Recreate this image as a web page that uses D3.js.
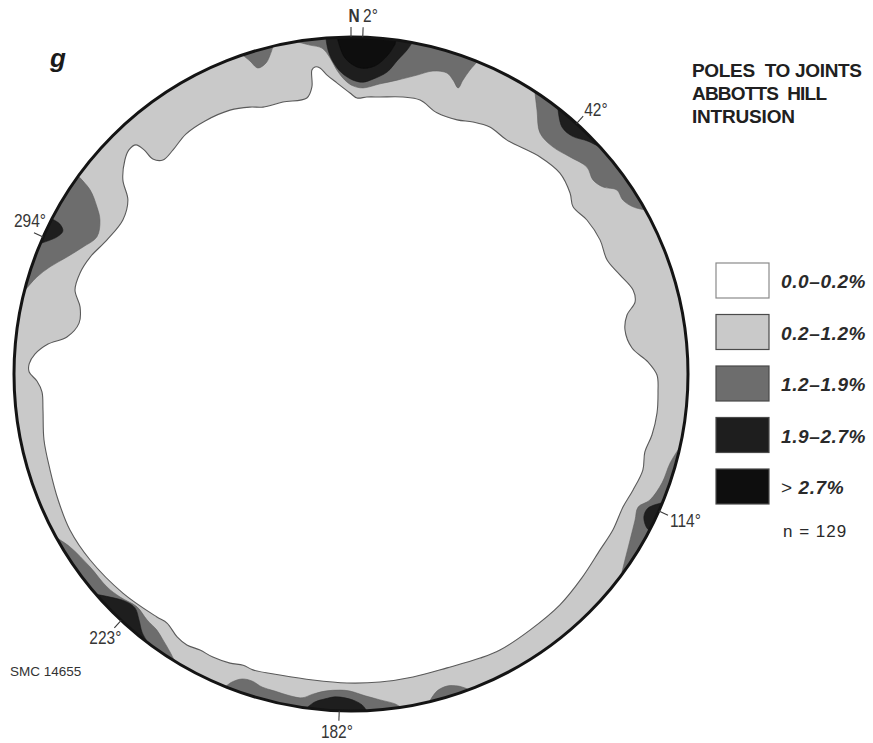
<!DOCTYPE html>
<html>
<head>
<meta charset="utf-8">
<script src="https://cdn.jsdelivr.net/npm/d3@7"></script>
<style>
  body { margin: 0; background: #fff; }
  svg { display: block; }
  text { font-family: "Liberation Sans", Arial, Helvetica, sans-serif; }
</style>
</head>
<body>
<svg id="chart" width="873" height="743"></svg>
<script>
// ---- contour classes, % of poles per 1% area ----
const classLabels = ["0.0–0.2%", "0.2–1.2%", "1.2–1.9%", "1.9–2.7%", "> 2.7%"];
const sampleSize = 129;
const titleLines = ["POLES  TO JOINTS", "ABBOTTS  HILL", "INTRUSION"];
const panelLetter = "g";
const sheetId = "SMC 14655";

// peak azimuths marked on the primitive circle (degrees from north)
const peakLabels   = ["N", "2°", "42°", "114°", "182°", "223°", "294°"];
const peakAzimuths = [0, 2, 42, 114, 182, 223, 294];

// ---- contour vertices in net coordinates [east, north], primitive radius = 1 ----
// 0.2 % contour (closed, encloses the empty centre of the net)
const contour02 = [
  [-0.359,0.783],[-0.300,0.792],[-0.261,0.792],[-0.202,0.807],[-0.131,0.819],[-0.116,0.852],
  [-0.116,0.902],[-0.107,0.911],[-0.092,0.908],[-0.071,0.887],[-0.042,0.864],[-0.003,0.834],
  [0.018,0.819],[0.047,0.822],[0.086,0.822],[0.154,0.822],[0.205,0.813],[0.255,0.775],
  [0.315,0.754],[0.362,0.748],[0.412,0.733],[0.463,0.694],[0.561,0.644],[0.620,0.596],
  [0.650,0.537],[0.659,0.496],[0.700,0.457],[0.739,0.398],[0.760,0.338],[0.798,0.294],
  [0.837,0.249],[0.843,0.214],[0.819,0.175],[0.813,0.131],[0.834,0.077],[0.881,0.036],
  [0.908,-0.003],[0.911,-0.053],[0.908,-0.116],[0.893,-0.181],[0.872,-0.231],[0.866,-0.285],
  [0.837,-0.344],[0.807,-0.395],[0.777,-0.463],[0.739,-0.522],[0.685,-0.605],[0.620,-0.685],
  [0.531,-0.760],[0.442,-0.819],[0.383,-0.843],[0.285,-0.872],[0.184,-0.899],[0.086,-0.914],
  [-0.012,-0.917],[-0.113,-0.908],[-0.211,-0.893],[-0.291,-0.878],[-0.320,-0.864],[-0.359,-0.858],
  [-0.410,-0.840],[-0.448,-0.819],[-0.487,-0.804],[-0.516,-0.780],[-0.546,-0.739],[-0.576,-0.721],
  [-0.677,-0.650],[-0.774,-0.552],[-0.834,-0.463],[-0.869,-0.374],[-0.893,-0.285],[-0.911,-0.196],
  [-0.914,-0.107],[-0.917,-0.053],[-0.932,-0.021],[-0.955,0.006],[-0.955,0.030],[-0.938,0.059],
  [-0.899,0.089],[-0.843,0.110],[-0.807,0.151],[-0.804,0.199],[-0.819,0.249],[-0.804,0.300],
  [-0.774,0.347],[-0.724,0.398],[-0.677,0.457],[-0.662,0.516],[-0.677,0.576],[-0.671,0.635],
  [-0.659,0.665],[-0.638,0.680],[-0.614,0.665],[-0.588,0.638],[-0.558,0.635],[-0.528,0.665],
  [-0.490,0.712],[-0.433,0.751]
];

// 1.2 % contours (open, both ends on the primitive circle)
const contour12_340 = [[-0.326,0.950],[-0.300,0.929],[-0.276,0.908],[-0.252,0.923],[-0.240,0.947],[-0.231,0.973]];
const contour12_002 = [
  [-0.157,0.985],[-0.122,0.976],[-0.086,0.967],[-0.062,0.938],[-0.042,0.902],[-0.018,0.872],
  [0.006,0.855],[0.036,0.849],[0.086,0.861],[0.137,0.872],[0.196,0.887],[0.243,0.899],
  [0.285,0.893],[0.303,0.872],[0.318,0.849],[0.332,0.872],[0.353,0.902],[0.374,0.926]
];
const contour12_042 = [
  [0.546,0.834],[0.552,0.783],[0.561,0.715],[0.599,0.674],[0.650,0.644],[0.700,0.614],
  [0.718,0.576],[0.748,0.555],[0.789,0.546],[0.807,0.516],[0.837,0.496],[0.872,0.487]
];
const contour12_114 = [
  [0.976,-0.217],[0.947,-0.264],[0.923,-0.323],[0.887,-0.374],[0.852,-0.395],
  [0.843,-0.433],[0.828,-0.493],[0.813,-0.552],[0.804,-0.588]
];
const contour12_160 = [[0.234,-0.970],[0.255,-0.941],[0.285,-0.926],[0.318,-0.926],[0.347,-0.935]];
const contour12_182 = [
  [-0.374,-0.929],[-0.353,-0.914],[-0.323,-0.905],[-0.294,-0.911],[-0.264,-0.929],[-0.226,-0.941],
  [-0.181,-0.955],[-0.145,-0.961],[-0.113,-0.950],[-0.077,-0.941],[-0.033,-0.938],[-0.003,-0.941],
  [0.042,-0.955],[0.086,-0.967],[0.131,-0.979],[0.151,-0.991]
];
const contour12_223 = [
  [-0.872,-0.487],[-0.834,-0.513],[-0.774,-0.573],[-0.724,-0.632],[-0.685,-0.662],[-0.635,-0.691],
  [-0.605,-0.730],[-0.576,-0.760],[-0.558,-0.789],[-0.537,-0.825],[-0.522,-0.855]
];
const contour12_294 = [
  [-0.810,0.588],[-0.774,0.546],[-0.754,0.496],[-0.745,0.457],[-0.754,0.407],
  [-0.795,0.377],[-0.843,0.347],[-0.893,0.318],[-0.932,0.288],[-0.967,0.249]
];

// 1.9 % contours
const contour19_002 = [
  [-0.074,0.994],[-0.068,0.961],[-0.053,0.926],[-0.027,0.893],[0.006,0.872],[0.036,0.866],
  [0.065,0.875],[0.107,0.896],[0.139,0.932],[0.166,0.961],[0.181,0.982]
];
const contour19_042 = [[0.614,0.789],[0.626,0.733],[0.656,0.706],[0.703,0.691],[0.742,0.671]];
const contour19_114 = [[0.920,-0.383],[0.881,-0.398],[0.869,-0.424],[0.878,-0.457],[0.893,-0.469]];
const contour19_182 = [
  [-0.128,-0.988],[-0.107,-0.973],[-0.077,-0.964],[-0.047,-0.958],[-0.018,-0.961],
  [0.012,-0.970],[0.033,-0.982],[0.045,-0.997]
];
const contour19_223 = [[-0.760,-0.653],[-0.715,-0.662],[-0.671,-0.674],[-0.641,-0.694],[-0.629,-0.730],[-0.620,-0.766],[-0.608,-0.789]];
const contour19_294 = [[-0.887,0.460],[-0.864,0.445],[-0.855,0.424],[-0.872,0.407],[-0.917,0.389]];

// 2.7 % contour
const contour27_002 = [[-0.039,0.991],[-0.018,0.938],[0.027,0.908],[0.071,0.914],[0.110,0.947],[0.131,0.979]];

const patches = [
  { level: classLabels[2], pts: contour12_340 },
  { level: classLabels[2], pts: contour12_002 },
  { level: classLabels[2], pts: contour12_042 },
  { level: classLabels[2], pts: contour12_114 },
  { level: classLabels[2], pts: contour12_160 },
  { level: classLabels[2], pts: contour12_182 },
  { level: classLabels[2], pts: contour12_223 },
  { level: classLabels[2], pts: contour12_294 },
  { level: classLabels[3], pts: contour19_002 },
  { level: classLabels[3], pts: contour19_042 },
  { level: classLabels[3], pts: contour19_114 },
  { level: classLabels[3], pts: contour19_182 },
  { level: classLabels[3], pts: contour19_223 },
  { level: classLabels[3], pts: contour19_294 },
  { level: classLabels[4], pts: contour27_002 }
];

// ---- layout ----
const W = 873, H = 743;
const cx = 351, cy = 374, R = 337;
const svg = d3.select("#chart");

const x = d3.scaleLinear().domain([-1, 1]).range([cx - R, cx + R]);
const y = d3.scaleLinear().domain([-1, 1]).range([cy + R, cy - R]);
const shade = d3.scaleOrdinal()
  .domain(classLabels)
  .range(["#ffffff", "#c9c9c9", "#6d6d6d", "#1e1e1e", "#0e0e0e"]);

svg.append("defs").append("clipPath").attr("id", "net")
  .append("circle").attr("cx", cx).attr("cy", cy).attr("r", R);

const net = svg.append("g").attr("clip-path", "url(#net)");

// background class fills the whole net
net.append("circle").attr("cx", cx).attr("cy", cy).attr("r", R)
  .attr("fill", shade(classLabels[1]));

// empty centre inside the 0.2% contour
const closedCurve = d3.line().x(d => x(d[0])).y(d => y(d[1]))
  .curve(d3.curveCatmullRomClosed.alpha(0.5));
net.append("path").datum(contour02)
  .attr("d", closedCurve)
  .attr("fill", shade(classLabels[0]))
  .attr("stroke", "#5a5a5a").attr("stroke-width", 1.1);

// open contours closed along the outside of the primitive circle
const openCurve = d3.line().x(d => x(d[0])).y(d => y(d[1]))
  .curve(d3.curveCatmullRom.alpha(0.5));
function patchPath(pts) {
  const first = pts[0], last = pts[pts.length - 1];
  const a0 = Math.atan2(first[1], first[0]);
  const a1 = Math.atan2(last[1], last[0]);
  let da = a0 - a1;
  while (da > Math.PI) da -= 2 * Math.PI;
  while (da < -Math.PI) da += 2 * Math.PI;
  const outer = d3.range(13).map(i => {
    const a = a1 + da * i / 12;
    return [1.2 * Math.cos(a), 1.2 * Math.sin(a)];
  });
  return openCurve(pts) + outer.map(p => `L${x(p[0])},${y(p[1])}`).join("") + "Z";
}
net.selectAll("path.patch").data(patches).join("path")
  .attr("class", "patch")
  .attr("d", d => patchPath(d.pts))
  .attr("fill", d => shade(d.level))
  .attr("stroke", d => d3.color(shade(d.level)).darker(0.4))
  .attr("stroke-width", 0.6);

// primitive circle
svg.append("circle").attr("cx", cx).attr("cy", cy).attr("r", R)
  .attr("fill", "none").attr("stroke", "#141414").attr("stroke-width", 3);

// ---- azimuth marks ----
const tickLen = 10;
const polar = (az, r) => {
  const a = az * Math.PI / 180;
  return [x(r * Math.sin(a)), y(r * Math.cos(a))];
};
const labelLayout = {
  "N":    { anchor: "middle", dx: 3,  dy: -5, weight: "bold" },
  "2°":   { anchor: "start",  dx: 0,  dy: -5 },
  "42°":  { anchor: "start",  dx: 1,  dy: 0 },
  "114°": { anchor: "start",  dx: 2,  dy: 12 },
  "182°": { anchor: "middle", dx: -2, dy: 17 },
  "223°": { anchor: "middle", dx: -9, dy: 16 },
  "294°": { anchor: "middle", dx: -4, dy: -6 }
};
const marks = svg.append("g");
peakAzimuths.forEach((az, i) => {
  const p0 = polar(az, 1);
  const p1 = polar(az, 1 + tickLen / R);
  marks.append("line")
    .attr("x1", p0[0]).attr("y1", p0[1]).attr("x2", p1[0]).attr("y2", p1[1])
    .attr("stroke", "#3a3a3a").attr("stroke-width", 1.1);
  const lab = peakLabels[i];
  const L = labelLayout[lab];
  marks.append("text")
    .attr("transform", `translate(${p1[0] + L.dx},${p1[1] + L.dy}) scale(0.86,1)`)
    .attr("text-anchor", L.anchor)
    .attr("font-size", 18)
    .attr("font-weight", L.weight || "normal")
    .attr("fill", "#363636")
    .text(lab);
});

// ---- panel letter, title, sheet number ----
svg.append("text").attr("x", 50).attr("y", 67)
  .attr("font-size", 26).attr("font-weight", "bold").attr("font-style", "italic")
  .attr("fill", "#1a1a1a").text(panelLetter);

const titleWidths = [170, 135, 103];
svg.append("g").selectAll("text").data(titleLines).join("text")
  .attr("x", 692).attr("y", (d, i) => 77 + i * 23)
  .attr("font-size", 19).attr("font-weight", "bold").attr("fill", "#202020")
  .attr("textLength", (d, i) => titleWidths[i])
  .attr("lengthAdjust", "spacing")
  .style("white-space", "pre")
  .text(d => d);

svg.append("text").attr("x", 10).attr("y", 676)
  .attr("font-size", 13.5).attr("fill", "#333").text(sheetId);

// ---- legend ----
const legend = svg.append("g").attr("transform", "translate(716,263)");
const rowStep = 51.5;
const rows = legend.selectAll("g").data(classLabels).join("g")
  .attr("transform", (d, i) => `translate(0,${i * rowStep})`);
rows.append("rect")
  .attr("width", 53).attr("height", 35)
  .attr("fill", d => shade(d))
  .attr("stroke", (d, i) => i === 0 ? "#8a8a8a" : "#4a4a4a")
  .attr("stroke-width", 1.2);
rows.append("text")
  .attr("x", 65).attr("y", 25)
  .attr("font-size", 19).attr("font-style", "italic").attr("font-weight", "bold")
  .attr("letter-spacing", 0.6)
  .attr("fill", "#2a2a2a")
  .style("white-space", "pre")
  .each(function (d) {
    const t = d3.select(this);
    if (d.startsWith(">")) {
      t.append("tspan").attr("font-weight", "normal").attr("font-style", "normal").text("> ");
      t.append("tspan").text(d.slice(1).trim());
    } else {
      t.text(d);
    }
  });
legend.append("text")
  .attr("x", 67).attr("y", classLabels.length * rowStep + 16)
  .attr("font-size", 17).attr("letter-spacing", 1).attr("fill", "#2a2a2a")
  .text(`n = ${sampleSize}`);
</script>
</body>
</html>
